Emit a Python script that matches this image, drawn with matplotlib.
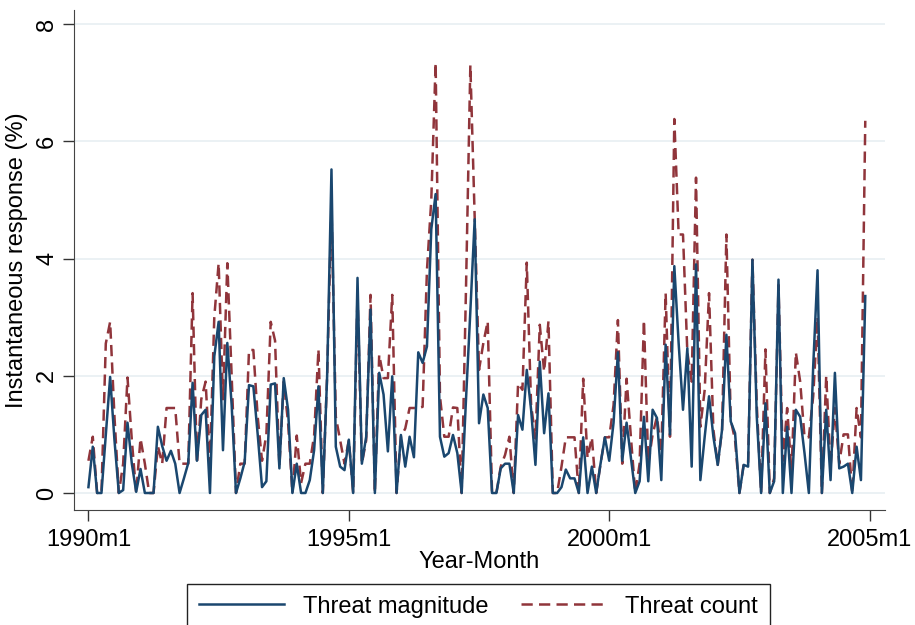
import numpy as np
import matplotlib.pyplot as plt

plt.rcParams['font.family'] = ['Liberation Sans', 'DejaVu Sans']

# monthly series, 1990m1 .. 2004m12
magnitude = [
    0.10, 0.79, 0.00, 0.00, 1.00, 1.98, 0.90, 0.00, 0.05, 1.20,
    0.50, 0.02, 0.41, 0.00, 0.00, 0.00, 1.13, 0.80, 0.55, 0.72,
    0.50, 0.00, 0.25, 0.51, 1.88, 0.55, 1.33, 1.42, 0.00, 2.33,
    2.92, 0.73, 2.56, 1.50, 0.00, 0.25, 0.53, 1.84, 1.82, 1.00,
    0.10, 0.20, 1.85, 1.87, 0.42, 1.96, 1.42, 0.00, 0.50, 0.00,
    0.00, 0.22, 0.73, 1.82, 0.00, 1.99, 5.52, 0.79, 0.45, 0.39,
    0.91, 0.00, 3.67, 0.50, 0.96, 3.13, 0.00, 2.05, 1.68, 0.71,
    1.99, 0.00, 0.99, 0.45, 0.96, 0.61, 2.40, 2.22, 2.50, 4.50,
    5.10, 0.96, 0.62, 0.68, 0.99, 0.68, 0.00, 1.60, 3.10, 4.67,
    1.19, 1.68, 1.45, 0.00, 0.00, 0.42, 0.50, 0.50, 0.00, 1.33,
    1.08, 2.10, 1.42, 0.48, 2.24, 1.02, 1.70, 0.00, 0.00, 0.10,
    0.40, 0.25, 0.25, 0.00, 0.95, 0.00, 0.45, 0.00, 0.50, 0.95,
    0.55, 1.20, 2.40, 0.55, 1.20, 0.60, 0.00, 0.20, 1.30, 0.20,
    1.42, 1.28, 0.22, 2.53, 1.00, 3.87, 2.55, 1.42, 2.47, 0.45,
    3.90, 0.22, 0.96, 1.65, 0.96, 0.48, 1.08, 2.70, 1.22, 1.02,
    0.00, 0.48, 0.45, 3.98, 1.30, 0.00, 1.53, 0.00, 0.20, 3.64,
    0.00, 1.13, 0.00, 1.42, 1.30, 0.68, 0.00, 2.16, 3.80, 0.00,
    1.42, 0.22, 2.05, 0.42, 0.45, 0.50, 0.00, 0.79, 0.22, 3.36,
]
count = [
    0.55, 0.96, 0.00, 0.00, 2.55, 2.92, 1.30, 0.00, 0.50, 1.97,
    0.90, 0.00, 0.93, 0.50, 0.00, 0.00, 0.80, 0.50, 1.45, 1.45,
    1.45, 0.50, 0.50, 0.50, 3.41, 0.50, 1.60, 1.90, 0.50, 3.00,
    3.92, 1.60, 3.92, 2.00, 0.00, 0.50, 0.50, 2.44, 2.44, 1.30,
    0.55, 1.00, 2.92, 2.60, 0.45, 1.90, 1.20, 0.00, 0.98, 0.17,
    0.50, 0.50, 0.98, 2.45, 0.00, 2.00, 4.89, 1.30, 0.90, 0.50,
    0.90, 0.00, 3.40, 0.50, 0.90, 3.38, 0.00, 2.36, 1.96, 1.96,
    3.38, 0.00, 0.96, 1.10, 1.45, 1.45, 1.45, 1.47, 3.80, 5.00,
    7.34, 1.65, 0.96, 0.96, 1.46, 1.45, 0.00, 3.50, 7.30, 4.70,
    2.10, 2.56, 2.93, 0.00, 0.00, 0.45, 0.65, 0.96, 0.00, 1.87,
    1.76, 3.93, 1.50, 0.93, 2.87, 2.07, 2.93, 0.00, 0.00, 0.45,
    0.95, 0.95, 0.95, 0.00, 1.95, 0.60, 0.95, 0.00, 0.50, 0.95,
    0.95, 1.50, 2.95, 0.50, 1.95, 0.95, 0.00, 0.50, 2.95, 0.50,
    1.00, 1.30, 0.68, 3.41, 0.96, 6.38, 4.41, 4.41, 2.40, 1.90,
    5.38, 1.13, 1.76, 3.41, 1.08, 0.48, 1.08, 4.41, 1.25, 0.90,
    0.00, 0.50, 0.50, 3.98, 1.50, 0.00, 2.45, 0.00, 0.25, 3.55,
    0.55, 1.45, 0.35, 2.40, 1.90, 0.95, 0.95, 1.65, 3.00, 0.00,
    2.00, 0.45, 1.45, 0.50, 1.00, 1.00, 0.00, 1.45, 0.95, 6.35,
]
xtick_pos = [0, 60, 120, 180]
xtick_labels = ['1990m1', '1995m1', '2000m1', '2005m1']
ytick_pos = [0, 2, 4, 6, 8]

months = np.arange(len(magnitude))

fig = plt.figure(figsize=(9.15, 6.25), dpi=100)
ax = fig.add_axes([0.081, 0.184, 0.886, 0.800])

ax.plot(months, magnitude, color='#1a476f', lw=1.8, label='Threat magnitude', zorder=3)
ax.plot(months, count, color='#90353b', lw=1.8, dashes=(4.5, 2.5),
        label='Threat count', zorder=2)

ax.set_xlim(-3.3, 183.5)
ax.set_ylim(-0.29, 8.24)
ax.set_xticks(xtick_pos)
ax.set_xticklabels(xtick_labels)
ax.set_yticks(ytick_pos)
ax.set_yticklabels([str(v) for v in ytick_pos], rotation=90, va='center')
ax.tick_params(axis='both', labelsize=17, length=8, width=1, color='#333333')
ax.tick_params(axis='x', pad=6)
ax.grid(axis='y', color='#e8eff2', lw=1.2)
ax.set_axisbelow(True)
for s in ['top', 'right']:
    ax.spines[s].set_visible(False)
for s in ['left', 'bottom']:
    ax.spines[s].set_color('#444444')

ax.set_xlabel('Year-Month', fontsize=17, labelpad=0)
ax.set_ylabel('Instantaneous response (%)', fontsize=17, labelpad=6)

fig.legend(loc='upper center', bbox_to_anchor=(0.523, 0.066), ncol=2,
           fontsize=17, frameon=True, fancybox=False, edgecolor='#222222',
           handlelength=3.6, handletextpad=0.8, columnspacing=1.4,
           borderpad=0.5, borderaxespad=0, framealpha=1)

fig.savefig('out.png', dpi=100)
